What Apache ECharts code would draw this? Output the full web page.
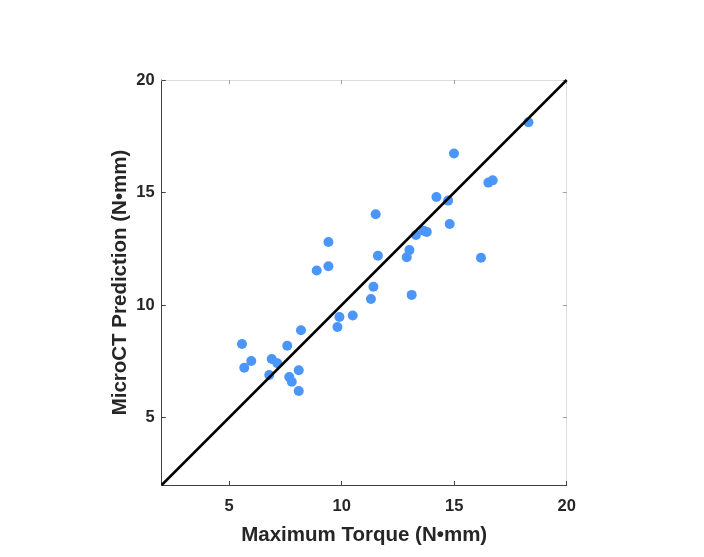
<!DOCTYPE html>
<html><head><meta charset="utf-8">
<script src="https://cdn.jsdelivr.net/npm/echarts@6/dist/echarts.min.js"></script>
<style>html,body{margin:0;padding:0;background:#fff}#c{width:704px;height:557px}</style>
</head><body><div id="c"></div>
<script>
const torque = [5.57,5.67,5.98,6.89,7.14,6.78,7.58,7.67,7.78,8.09,8.09,8.19,8.89,9.41,9.41,9.81,9.90,10.49,11.30,11.41,11.51,11.61,12.89,13.01,13.11,13.30,13.65,13.78,14.21,14.73,14.80,14.99,16.19,16.52,16.71,18.30];
const predicted = [8.27,7.21,7.51,7.60,7.41,6.89,8.19,6.80,6.59,7.10,6.18,8.88,11.53,11.72,12.80,9.02,9.47,9.53,10.27,10.81,14.03,12.19,12.12,12.44,10.45,13.11,13.30,13.25,14.80,14.64,13.60,16.73,12.10,15.44,15.54,18.12];
const tickValues = [5,10,15,20];
const lineEnds = [2,20];
const xName = 'Maximum Torque (N\u2022mm)';
const yName = 'MicroCT Prediction (N\u2022mm)';

const font = "'Liberation Sans', Arial, sans-serif";
const txt = '#262626';
const chart = echarts.init(document.getElementById('c'));
const baseAxis = (pos, name, gap, show) => ({
  type:'value', min:2, max:20, position:pos,
  name: show ? name : '', nameLocation:'middle', nameGap:gap, nameMoveOverlap:false,
  nameTextStyle:{fontFamily:font,fontWeight:'bold',fontSize:20.5,color:txt},
  axisLine:{show:true,onZero:false,lineStyle:{color: show ? '#404040' : '#dcdcdc',width:1}},
  axisTick:{show:true,inside:true,length:4,customValues:tickValues,lineStyle:{color: show ? '#404040':'#a0a0a0'}},
  axisLabel:{show:show,customValues:tickValues,fontFamily:font,fontWeight:'bold',fontSize:16.5,color:txt,margin: pos==='bottom'?13:7},
  splitLine:{show:false}
});
chart.setOption({
  animation:false,
  grid:{left:161.7,right:137.3,top:80,bottom:72,containLabel:false},
  xAxis:[baseAxis('bottom',xName,40,true),baseAxis('top',xName,0,false)],
  yAxis:[baseAxis('left',yName,31,true),baseAxis('right',yName,0,false)],
  series:[
    {type:'scatter',data:torque.map((v,i)=>[v,predicted[i]]),symbolSize:10,itemStyle:{color:'#4b96fb',opacity:1},z:2},
    {type:'line',data:lineEnds.map(v=>[v,v]),symbol:'none',lineStyle:{color:'#000',width:2.5},z:3}
  ]
});
</script></body></html>
